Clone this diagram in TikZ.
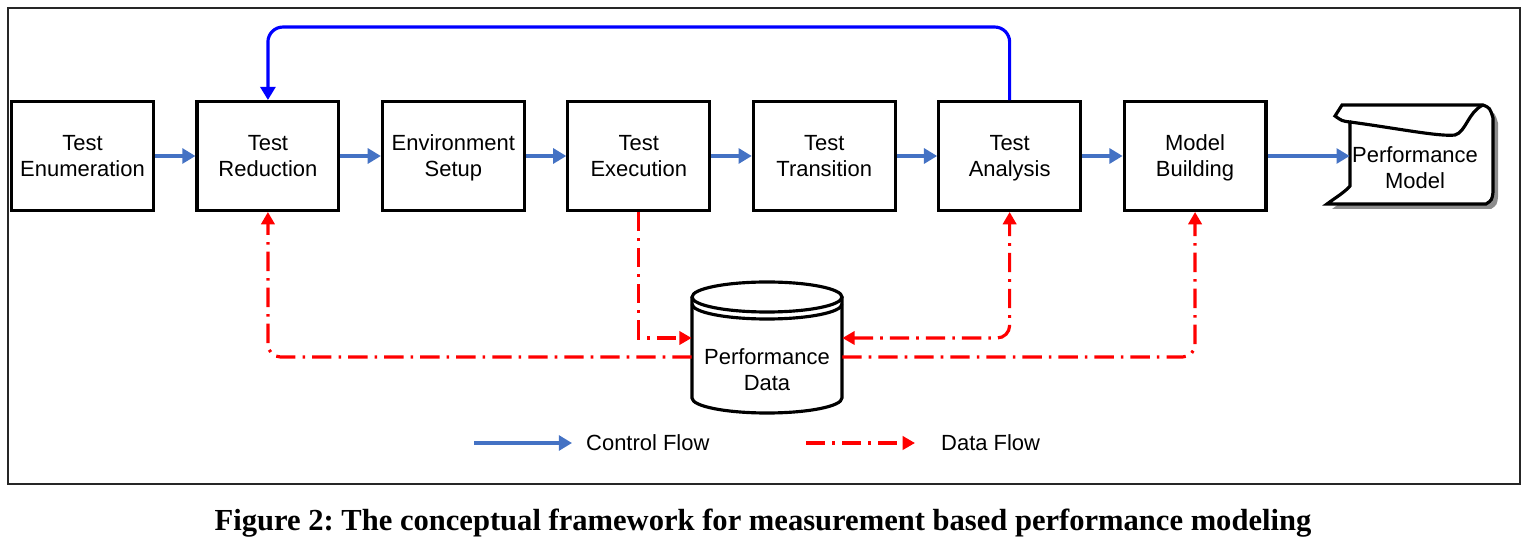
\documentclass[tikz,border=0pt]{standalone}
\usepackage{fontspec}
\setmainfont{Liberation Sans}
\newfontfamily\captionfont{Liberation Serif}
\usetikzlibrary{arrows.meta, positioning, calc}
\definecolor{ctrlblue}{RGB}{68, 114, 196}
\definecolor{loopblue}{RGB}{0, 0, 255}
\definecolor{datared}{RGB}{255, 0, 0}
\newcommand{\diagfont}{\fontsize{12.5}{14.8}\selectfont}
\tikzset{
  stage/.style={draw, line width=1.8pt, fill=white, minimum width=2.836cm, minimum height=2.176cm, align=center, font=\diagfont, inner sep=2pt, text depth=0pt},
  ctrl/.style={-{Triangle[length=7.5pt,width=8.5pt]}, line width=1.8pt, draw=ctrlblue},
  feedback/.style={-{Triangle[length=7.5pt,width=8.5pt]}, line width=1.8pt, draw=loopblue, rounded corners=0.3cm},
  dataflow/.style={-{Triangle[length=7pt,width=7.5pt]}, line width=1.8pt, draw=datared, dash pattern=on 11pt off 4pt on 1.5pt off 4pt, rounded corners=0.25cm},
  datatip/.style={{Triangle[length=7pt,width=7.5pt]}-{Triangle[length=7pt,width=7.5pt]}}
}

\begin{document}
\begin{tikzpicture}[x=0.02cm, y=-0.02cm]
  \useasboundingbox (0,0) rectangle (1528,543);

  % Outer frame
  \draw[line width=0.9pt, black!85] (8,8) rectangle (1520,484);

  % Stages of the framework
  \node[stage] (s1) at (82.5,156) {Test\\Enumeration};
  \node[stage, right=0.81cm of s1] (s2) {Test\\Reduction};
  \node[stage, right=0.81cm of s2] (s3) {Environment\\Setup};
  \node[stage, right=0.81cm of s3] (s4) {Test\\Execution};
  \node[stage, right=0.81cm of s4] (s5) {Test\\Transition};
  \node[stage, right=0.81cm of s5] (s6) {Test\\Analysis};
  \node[stage, right=0.81cm of s6] (s7) {Model\\Building};

  % Performance model (document shape with shadow)
  \path[fill=black!45, shift={(5,5)}] (1342,105) -- (1483,105) .. controls (1490,108) .. (1493,118) -- (1493,192)
    .. controls (1492,200) .. (1486,204) -- (1327,204) .. controls (1335,198) and (1345,192) .. (1350,186) -- cycle;
  \draw[line width=1.8pt, fill=white] (1342,105) -- (1483,105) .. controls (1490,108) .. (1493,118) -- (1493,192)
    .. controls (1492,200) .. (1486,204) -- (1327,204) .. controls (1335,198) and (1345,192) .. (1350,186)
    -- (1350,122) .. controls (1342,121) .. (1335,116) -- cycle;
  \draw[line width=1.8pt] (1350,122) .. controls (1395,128) and (1440,137) .. (1455,135)
    .. controls (1466,132) and (1468,112) .. (1483,105);
  \node[minimum width=2.6cm, minimum height=1.6cm, font=\diagfont, align=center, inner sep=0pt] (pmodel) at (1415,168) {Performance\\Model};

  % Performance data (cylinder)
  \node[minimum width=3cm, minimum height=2cm, inner sep=0pt] (pdata) at (767,348) {};
  \draw[line width=1.8pt, fill=white] (692,297) -- (692,398) arc[start angle=180, end angle=360, x radius=1.5cm, y radius=0.3cm] -- (842,297);
  \draw[line width=1.8pt, fill=white] (767,297) ellipse[x radius=1.5cm, y radius=0.3cm];
  \draw[line width=1.8pt] (692,304) arc[start angle=180, end angle=360, x radius=1.5cm, y radius=0.3cm];
  \node[font=\diagfont, align=center] (pdatatext) at (767,370) {Performance\\Data};

  % Control flow
  \foreach \a/\b in {s1/s2, s2/s3, s3/s4, s4/s5, s5/s6, s6/s7}
    \draw[ctrl] (\a) -- (\b);
  \draw[ctrl] (s7.east) -- (s7.east -| pmodel.west);
  \draw[feedback] (s6.north) -- ++(0,-73) -| (s2.north);

  % Data flow
  \draw[dataflow, rounded corners=0pt] (s4.south) |- ($(pdata.west)+(0,-10)$);
  \draw[dataflow] ($(pdata.west)+(0,9)$) -| (s2.south);
  \draw[dataflow, datatip] ($(pdata.east)+(0,-10)$) -| (s6.south);
  \draw[dataflow] ($(pdata.east)+(0,9)$) -| (s7.south);

  % Legend
  \coordinate (cf0) at (474,443);
  \coordinate (cf1) at (572,443);
  \draw[ctrl] (cf0) -- (cf1);
  \node[right, font=\diagfont] (cftext) at (580,443) {Control Flow};
  \coordinate (df0) at (806,443);
  \coordinate (df1) at (915,443);
  \draw[dataflow] (df0) -- (df1);
  \node[right, font=\diagfont] (dftext) at (935,443) {Data Flow};

  % Caption
  \node[font=\captionfont\bfseries\fontsize{17.4}{20}\selectfont] (caption) at (763,523) {\frenchspacing Figure 2: The conceptual framework for measurement based performance modeling};
\end{tikzpicture}
\end{document}
